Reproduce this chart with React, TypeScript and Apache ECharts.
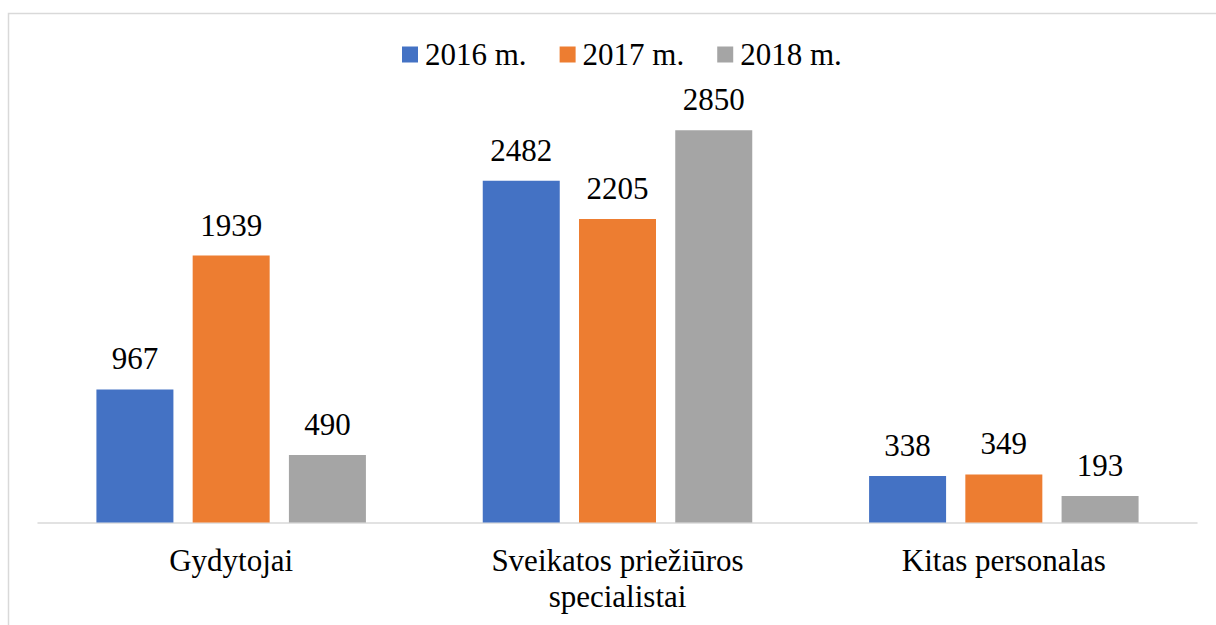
import React, { useEffect, useRef } from "react";
import * as echarts from "echarts";

const categories = ["Gydytojai", "Sveikatos priežiūros\nspecialistai", "Kitas personalas"];
const seriesNames = ["2016 m.", "2017 m.", "2018 m."];
const values2016 = [967, 2482, 338];
const values2017 = [1939, 2205, 349];
const values2018 = [490, 2850, 193];
const colors = ["#4472C4", "#ED7D31", "#A5A5A5"];

const FONT = "Liberation Serif";

export default function App() {
  const ref = useRef<HTMLDivElement>(null);
  useEffect(() => {
    if (!ref.current) return;
    const chart = echarts.init(ref.current, undefined, { renderer: "svg" });
    const data = [values2016, values2017, values2018];
    chart.setOption({
      animation: false,
      backgroundColor: "#ffffff",
      textStyle: { fontFamily: FONT },
      graphic: [
        {
          type: "rect",
          shape: { x: 8.5, y: 13.5, width: 1300, height: 700 },
          style: { fill: "none", stroke: "#d9d9d9", lineWidth: 1.5 },
          silent: true,
        },
      ],
      legend: {
        left: 397,
        top: 34,
        itemWidth: 16,
        itemHeight: 16,
        itemGap: 33,
        icon: "rect",
        textStyle: { fontFamily: FONT, fontSize: 31, color: "#000", padding: [0, 0, 0, 2] },
        data: seriesNames,
      },
      grid: { left: 38, right: 19, top: 109.5, bottom: 102.5, containLabel: false },
      xAxis: {
        type: "category",
        data: categories,
        axisLine: { show: true, lineStyle: { color: "#d9d9d9", width: 1.5 } },
        axisTick: { show: false },
        axisLabel: {
          fontFamily: FONT,
          fontSize: 31,
          color: "#000",
          lineHeight: 36,
          margin: 20,
          interval: 0,
        },
      },
      yAxis: {
        type: "value",
        min: 0,
        max: 3000,
        show: false,
        splitLine: { show: false },
      },
      series: seriesNames.map((name, i) => ({
        name,
        type: "bar",
        data: data[i],
        barWidth: 77,
        barGap: "25%",
        itemStyle: { color: colors[i] },
        label: {
          show: true,
          position: "top",
          distance: 15,
          fontFamily: FONT,
          fontSize: 31,
          color: "#000",
        },
      })),
    });
    return () => chart.dispose();
  }, []);
  return (
    <div
      ref={ref}
      style={{ position: "absolute", left: 0, top: 0, width: 1216, height: 625 }}
    />
  );
}
